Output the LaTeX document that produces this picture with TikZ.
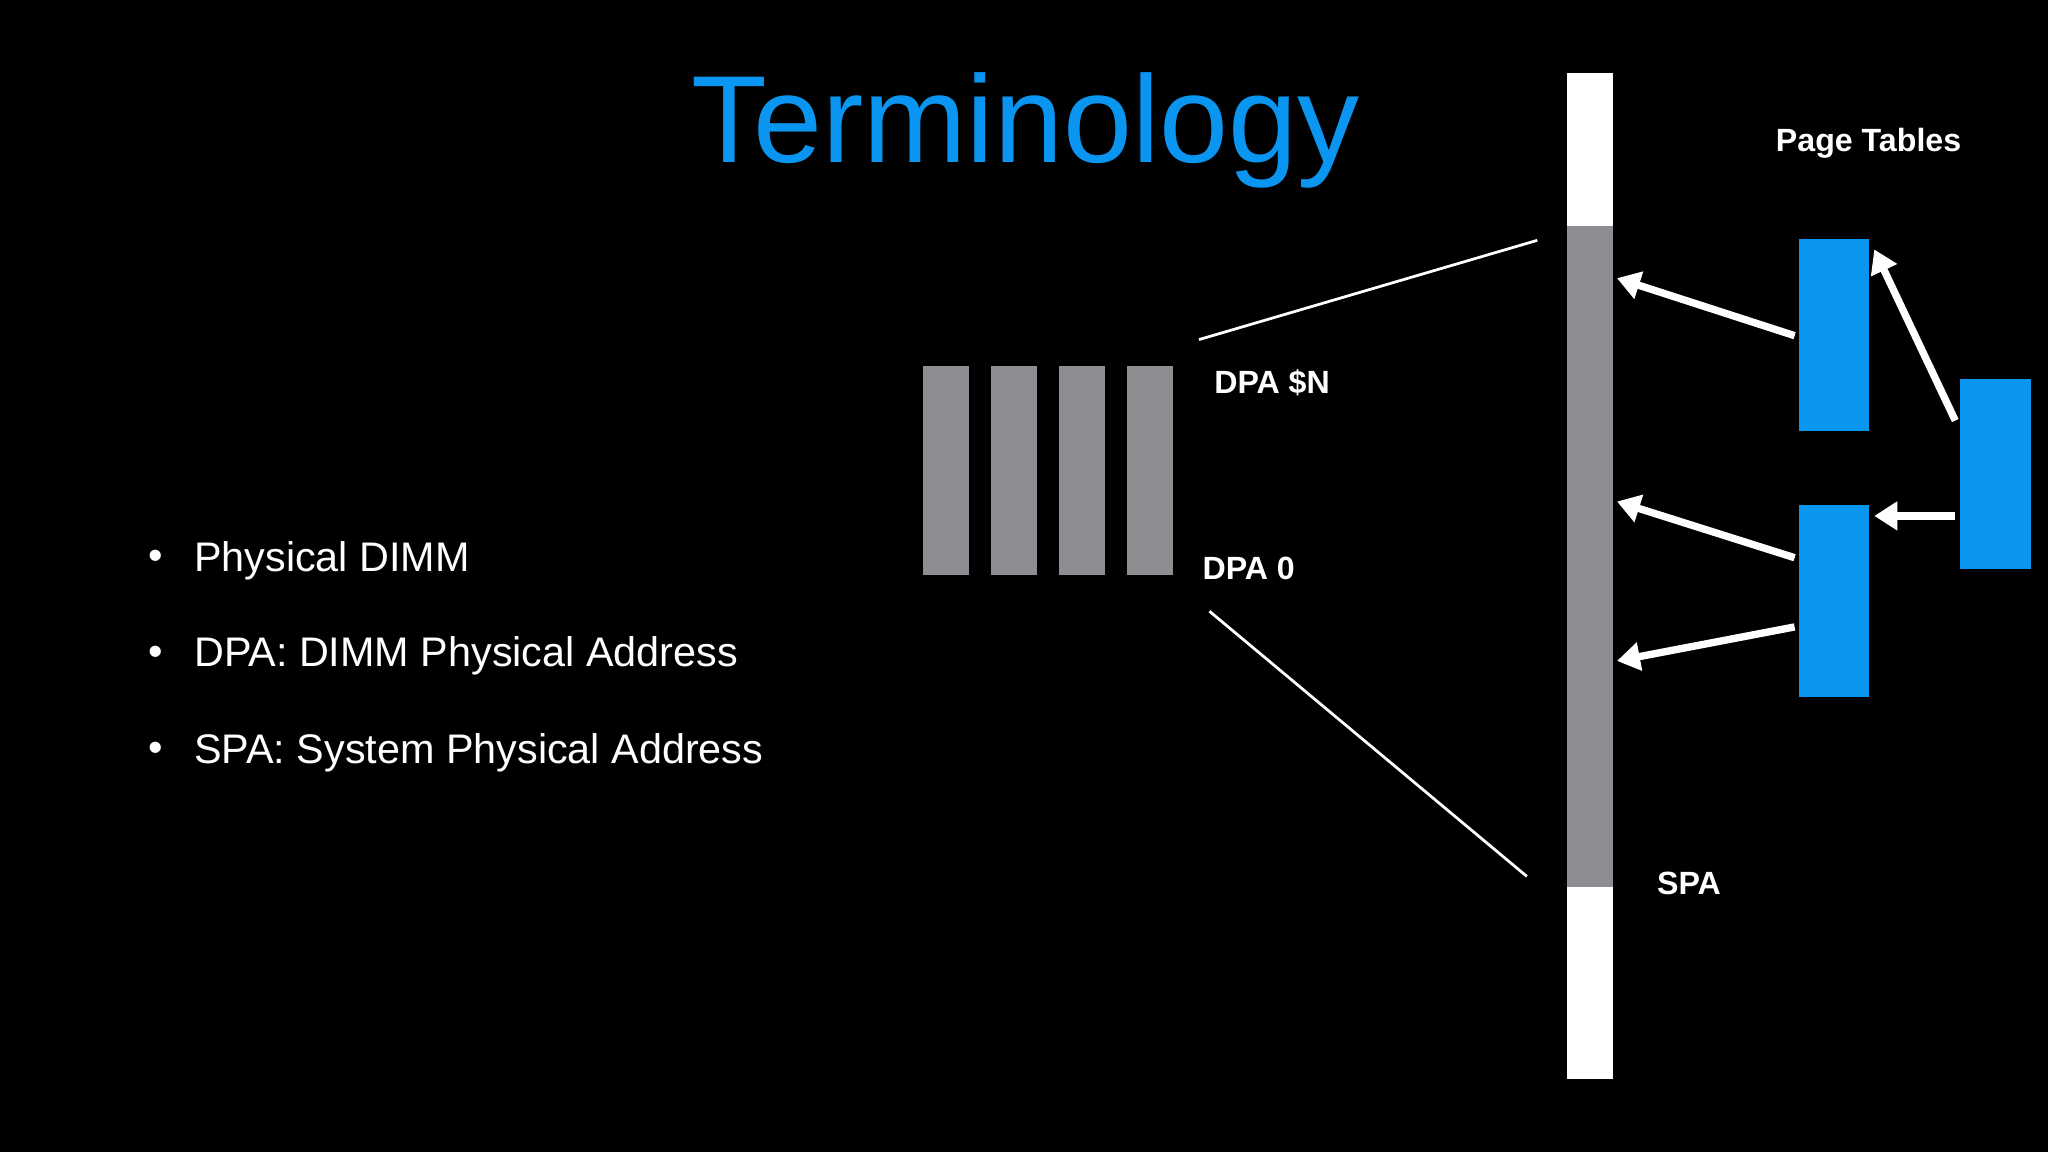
\documentclass[tikz,border=0pt]{standalone}
\usepackage{fontspec}
\setmainfont{Liberation Sans}
\usetikzlibrary{arrows.meta}
\definecolor{tblue}{HTML}{0A96F0}
\definecolor{tgray}{HTML}{8E8D91}
\begin{document}
\begin{tikzpicture}[x=0.01cm,y=-0.01cm,
  lbl/.style={text=white,font=\bfseries\fontsize{7}{8}\selectfont,anchor=west,inner sep=0},
  bul/.style={text=white,font=\fontsize{9}{10}\selectfont,anchor=west,inner sep=0},
  arr/.style={white,line width=1.6pt,-{Triangle[length=5pt,width=6pt]}},
  thin/.style={white,line width=0.6pt}]
\fill[black] (0,0) rectangle (1568,882);
\useasboundingbox (0,0) rectangle (1568,882);
\node[text=tblue,font=\fontsize{27}{30}\selectfont,inner sep=0] (title) at (785,100) {Terminology};
% SPA bar
\fill[white] (1200,56) rectangle (1235,826);
\fill[tgray] (1200,173) rectangle (1235,679);
% DIMMs
\foreach \x/\n in {707/d1,759/d2,811/d3,863/d4}
  \fill[tgray] (\x,280) rectangle (\x+35,440);
% page tables
\fill[tblue] (1377,183) rectangle (1431,330);
\fill[tblue] (1377,387) rectangle (1431,534);
\fill[tblue] (1501,290) rectangle (1555,436);
% labels
\node[lbl] (dpan) at (929,293) {DPA \$N};
\node[lbl] (dpa0) at (920,435) {DPA 0};
\node[lbl] (spa) at (1268,676) {SPA};
\node[lbl] (pt) at (1359,110) {Page Tables};
% bullets
\foreach \y/\t/\n in {429/Physical DIMM/b1,502/DPA: DIMM Physical Address/b2,576/SPA: System Physical Address/b3}{
  \node[bul] at (113,\y) {•};
  \node[bul] (\n) at (148,\y) {\t};}
% lines
\coordinate (l1a) at (918,260); \coordinate (l1b) at (1177,184);
\coordinate (l2a) at (926,468); \coordinate (l2b) at (1169,671);
\draw[thin] (l1a) -- (l1b);
\draw[thin] (l2a) -- (l2b);
% arrows
\coordinate (a1s) at (1374,257); \coordinate (a1e) at (1238,213);
\coordinate (a2s) at (1374,427); \coordinate (a2e) at (1238,384);
\coordinate (a3s) at (1374,480); \coordinate (a3e) at (1238,506);
\coordinate (a4s) at (1497,395); \coordinate (a4e) at (1435,395);
\coordinate (a5s) at (1497,322); \coordinate (a5e) at (1435,191);
\foreach \i in {1,...,5} \draw[arr] (a\i s) -- (a\i e);
\end{tikzpicture}
\end{document}
